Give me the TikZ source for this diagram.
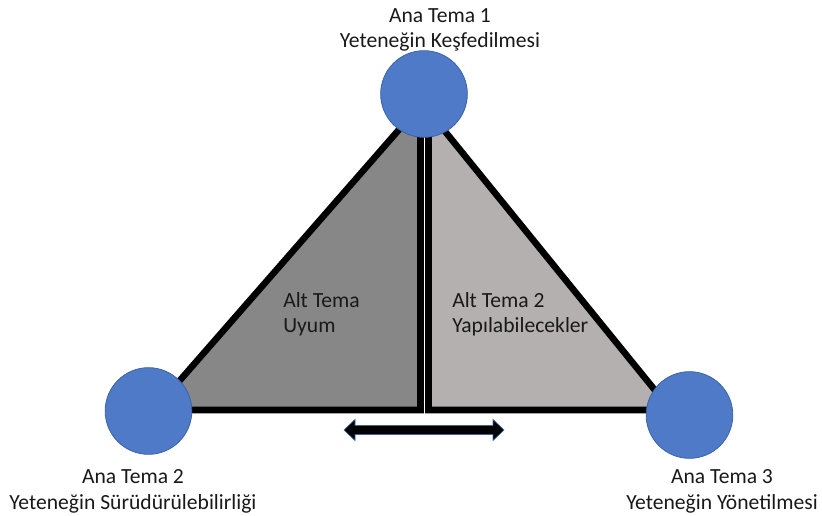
\documentclass[tikz,border=0pt]{standalone}
\usepackage{fontspec}
\setmainfont{Carlito}
\begin{document}
\begin{tikzpicture}[x=0.75pt,y=-0.75pt,
  tri/.style={draw=black,line width=4.9pt,line join=miter},
  theme/.style={circle,fill=circblue,draw=circedge,line width=0.6pt,minimum size=65pt,inner sep=0pt},
  lbl/.style={align=center,font=\fontsize{16.2}{19}\selectfont,text=black!90},
  sub/.style={align=left,anchor=north west,font=\fontsize{16.2}{19}\selectfont,text=black!90,inner sep=0pt}]
\definecolor{circblue}{HTML}{4E7AC8}
\definecolor{circedge}{HTML}{3B62A8}
\definecolor{darkgray}{HTML}{878787}
\definecolor{lightgray}{HTML}{B4B0B0}
\useasboundingbox (0,0) rectangle (822,516);
% triangles
\coordinate (la) at (420.5,105);
\coordinate (lb) at (154,410);
\coordinate (lc) at (420.5,410);
\coordinate (ra) at (428.5,111);
\coordinate (rb) at (428.5,410);
\coordinate (rc) at (671,410);
\filldraw[tri,fill=darkgray] (la) -- (lb) -- (lc) -- cycle;
\filldraw[tri,fill=lightgray] (ra) -- (rb) -- (rc) -- cycle;
% circles
\node[theme] (t1) at (424,94) {};
\node[theme] (t2) at (148.5,411) {};
\node[theme] (t3) at (689.5,415) {};
% labels
\node[lbl,anchor=south] (l1) at (440,56) {Ana Tema 1\\Yeteneğin Keşfedilmesi};
\node[lbl,anchor=north] (l2) at (133,465) {Ana Tema 2\\Yeteneğin Sürüdürülebilirliği};
\node[lbl,anchor=north] (l3) at (722,465) {Ana Tema 3\\Yeteneğin Yönetilmesi};
\node[sub] (s1) at (283,292) {Alt Tema\\Uyum};
\node[sub] (s2) at (452,292) {Alt Tema 2\\Yapılabilecekler};
% double arrow
\coordinate (aL) at (344,430);
\coordinate (aR) at (504,430);
\filldraw[fill=black,draw=circedge,line width=0.5pt]
  (aL) -- (355,419.5) -- (355,425.5) -- (493,425.5) -- (493,419.5) -- (aR)
  -- (493,440.5) -- (493,434.5) -- (355,434.5) -- (355,440.5) -- cycle;
\end{tikzpicture}
\end{document}
